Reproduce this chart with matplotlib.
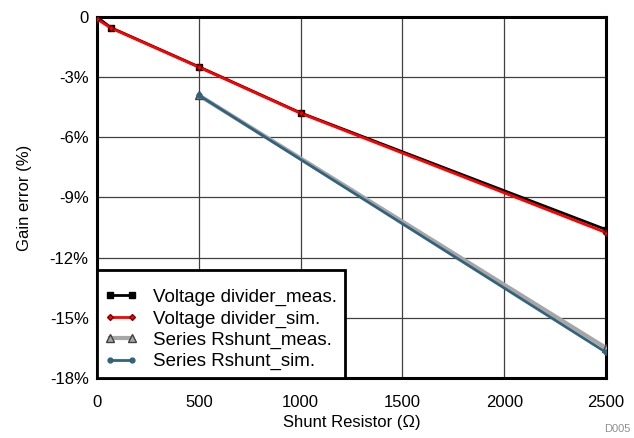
import matplotlib.pyplot as plt
from matplotlib.ticker import FixedLocator

plt.rcParams['font.family'] = ['Liberation Sans', 'DejaVu Sans']

# Shunt resistor (ohm) and gain error (%)
vd_r = [0, 68, 500, 1000, 2500]
vd_meas = [0.0, -0.53, -2.48, -4.78, -10.6]
vd_sim = [-0.1, -0.55, -2.5, -4.8, -10.75]

rs_r = [500, 2500]
rs_meas = [-3.9, -16.5]
rs_sim = [-3.9, -16.72]

x_ticks = [0, 500, 1000, 1500, 2000, 2500]
y_ticks = [0, -3, -6, -9, -12, -15, -18]
y_labels = ['0', '-3%', '-6%', '-9%', '-12%', '-15%', '-18%']

fig = plt.figure(figsize=(6.34, 4.38), dpi=100)
ax = fig.add_axes([97 / 634, 1 - 378 / 438, 509 / 634, 361 / 438])

ax.plot(vd_r, vd_meas, color='black', lw=2, marker='s', ms=4,
        label='Voltage divider_meas.', zorder=3)
ax.plot(vd_r, vd_sim, color='#ff0000', lw=2, marker='D', ms=3,
        mfc='#ff0000', mec='#800000', label='Voltage divider_sim.', zorder=4)
ax.plot(rs_r, rs_meas, color='#a6a6a6', lw=3, marker='^', ms=6,
        mfc='#a6a6a6', mec='#404040', label='Series Rshunt_meas.', zorder=3)
ax.plot(rs_r, rs_sim, color='#31637e', lw=2, marker='o', ms=3.5,
        label='Series Rshunt_sim.', zorder=4)

ax.set_xlim(0, 2500)
ax.set_ylim(-18, 0)
ax.xaxis.set_major_locator(FixedLocator(x_ticks))
ax.yaxis.set_major_locator(FixedLocator(y_ticks))
ax.set_yticklabels(y_labels)
ax.tick_params(length=0, labelsize=12)
ax.tick_params(axis='x', pad=12)
ax.tick_params(axis='y', pad=6)
ax.grid(True, color='#404040', lw=0.9)
ax.set_axisbelow(True)
for s in ax.spines.values():
    s.set_linewidth(2.2)

ax.set_xlabel('Shunt Resistor (\u03a9)', fontsize=12, labelpad=4)
ax.set_ylabel('Gain error (%)', fontsize=12, labelpad=13)

# small blank title gives the extra top padding seen in the reference
leg = ax.legend(loc='lower left', fontsize=13.5, frameon=True, fancybox=False,
                borderaxespad=0, handlelength=1.75, handletextpad=0.85,
                labelspacing=0.22, borderpad=0.4, numpoints=2,
                title=' ', title_fontsize=5)
leg.get_frame().set_edgecolor('black')
leg.get_frame().set_linewidth(2)
leg.get_frame().set_alpha(1)

fig.text(0.995, 0.01, 'D005', ha='right', va='bottom', fontsize=8, color='#909090')

fig.savefig('out.png', dpi=100)
